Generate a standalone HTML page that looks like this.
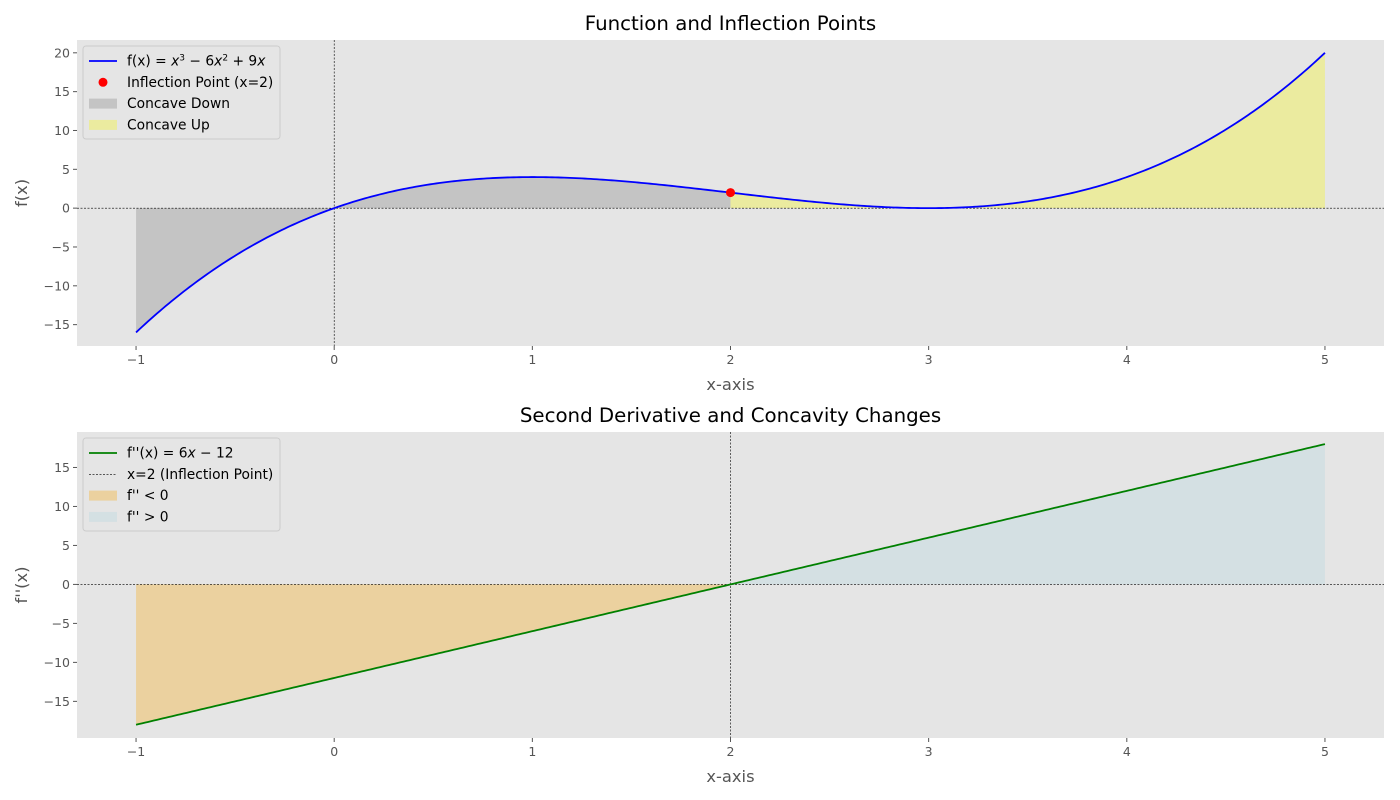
<!DOCTYPE html>
<html><head><meta charset="utf-8"><style>
body{margin:0;background:#fff;}
svg{display:block;font-family:"DejaVu Sans","Liberation Sans",sans-serif;}
</style></head><body>
<svg id="chart" width="1400" height="800"></svg>
<script>
// Data: polynomial coefficients (c0 + c1 x + c2 x^2 + c3 x^3) and ranges
const fCoeffs = [0, 9, -6, 1];
const f2Coeffs = [-12, 6];
const xDomain = [-1, 5];
const inflectionX = [2];
const xTicks = [-1, 0, 1, 2, 3, 4, 5];
const yTicksTop = [-15, -10, -5, 0, 5, 10, 15, 20];
const yTicksBottom = [-15, -10, -5, 0, 5, 10, 15];

const NS = "http://www.w3.org/2000/svg";
const svg = document.getElementById('chart');
function mk(tag, attrs, parent, text){
  const e = document.createElementNS(NS, tag);
  for (const k in attrs) e.setAttribute(k, attrs[k]);
  if (text !== undefined) e.textContent = text;
  (parent || svg).appendChild(e);
  return e;
}
function poly(c, x){ let s = 0; for (let i = c.length - 1; i >= 0; i--) s = s * x + c[i]; return s; }
function samples(c, a, b){ const pts = []; const n = 400; for (let i = 0; i <= n; i++){ const x = a + (b - a) * i / n; pts.push([x, poly(c, x)]); } return pts; }

function panel(cfg){
  const {L, R, T, B, xmin, xmax, ymin, ymax} = cfg;
  const sx = x => L + (x - xmin) / (xmax - xmin) * (R - L);
  const sy = y => B - (y - ymin) / (ymax - ymin) * (B - T);
  const g = mk('g', {});
  
  
  const bg = mk('rect', {x: L, y: T, width: R - L, height: B - T, fill: '#e5e5e5'}, g);
  
  
  cfg.fills.forEach(fl => {
    const pts = samples(cfg.coeffs, fl.a, fl.b);
    let d = `M${sx(fl.a)},${sy(0)} ` + pts.map(p => `L${sx(p[0])},${sy(p[1])}`).join(' ') + ` L${sx(fl.b)},${sy(0)} Z`;
    const p = mk('path', {d, fill: fl.color}, g);
    
    
  });
  const h = mk('line', {x1: L, x2: R, y1: sy(0), y2: sy(0), stroke: '#000', 'stroke-width': 0.6, 'stroke-dasharray': '2,1.5'}, g);
  
  
  const v = mk('line', {x1: sx(cfg.vx), x2: sx(cfg.vx), y1: T, y2: B, stroke: '#000', 'stroke-width': 0.6, 'stroke-dasharray': '2,1.5'}, g);
  
  
  const pts = samples(cfg.coeffs, xDomain[0], xDomain[1]);
  const line = mk('path', {d: 'M' + pts.map(p => `${sx(p[0])},${sy(p[1])}`).join(' L'), fill: 'none', stroke: cfg.color, 'stroke-width': 1.8}, g);
  
  
  if (cfg.point){
    const c = mk('circle', {cx: sx(inflectionX[0]), cy: sy(poly(cfg.coeffs, inflectionX[0])), r: 4.5, fill: 'red'}, g);
    
    
  }
  xTicks.forEach(t => {
    mk('line', {x1: sx(t), x2: sx(t), y1: B, y2: B + 4, stroke: '#555'}, g);
    const tx = mk('text', {x: sx(t), y: B + 18, 'font-size': 12.5, fill: '#555', 'text-anchor': 'middle'}, g, t < 0 ? '−' + (-t) : t);
    
    
  });
  cfg.yTicks.forEach(t => {
    mk('line', {x1: L - 4, x2: L, y1: sy(t), y2: sy(t), stroke: '#555'}, g);
    const ty = mk('text', {x: L - 7, y: sy(t) + 4.5, 'font-size': 12.5, fill: '#555', 'text-anchor': 'end'}, g, t < 0 ? '−' + (-t) : t);
    
    
  });
  const ttl = mk('text', {x: (L + R) / 2, y: T - 10, 'font-size': 19.8, fill: '#000', 'text-anchor': 'middle'}, g, cfg.title);
  
  
  const xl = mk('text', {x: (L + R) / 2, y: B + 44, 'font-size': 16.3, fill: '#555', 'text-anchor': 'middle'}, g, 'x-axis');
  
  
  const yl = mk('text', {x: 0, y: 0, 'font-size': 16.3, fill: '#555', 'text-anchor': 'middle', transform: `translate(27,${(T + B) / 2}) rotate(-90)`}, g, cfg.ylabel);
  
  
  const lg = mk('g', {}, g);
  
  
  mk('rect', {x: L + 6, y: T + 6, width: 197, height: 93, rx: 3, fill: '#e5e5e5', stroke: '#ccc', 'stroke-width': 1}, lg);
  cfg.legend.forEach((it, i) => {
    const y = T + 21 + i * 21.3;
    const eg = mk('g', {}, lg);
    
    
    if (it.type === 'line') mk('line', {x1: L + 12, x2: L + 40, y1: y, y2: y, stroke: it.color, 'stroke-width': it.w || 1.8, 'stroke-dasharray': it.dash || 'none'}, eg);
    else if (it.type === 'dot') mk('circle', {cx: L + 26, cy: y, r: 4.5, fill: it.color}, eg);
    else mk('rect', {x: L + 12, y: y - 5, width: 28, height: 10, fill: it.color}, eg);
    const tx = mk('text', {x: L + 50, y: y + 4.5, 'font-size': 13.8, fill: '#000'}, eg);
    tx.innerHTML = it.label;
  });
}

panel({name: 'top-panel', L: 77, R: 1384, T: 40, B: 346, xmin: -1.298, xmax: 5.298, ymin: -17.75, ymax: 21.65,
  coeffs: fCoeffs, color: '#0000ff', lineName: 'f-curve', vx: 0, point: true, yTicks: yTicksTop,
  title: 'Function and Inflection Points', ylabel: 'f(x)',
  fills: [{a: xDomain[0], b: inflectionX[0], color: '#c4c4c4', name: 'concave-down-area'},
          {a: inflectionX[0], b: xDomain[1], color: '#ebeb9f', name: 'concave-up-area'}],
  legend: [{type: 'line', color: '#0000ff', label: 'f(x) = <tspan font-style="italic">x</tspan><tspan dy="-5" font-size="9">3</tspan><tspan dy="5"> − 6</tspan><tspan font-style="italic">x</tspan><tspan dy="-5" font-size="9">2</tspan><tspan dy="5"> + 9</tspan><tspan font-style="italic">x</tspan>'},
           {type: 'dot', color: 'red', label: 'Inflection Point (x=2)'},
           {type: 'rect', color: '#c4c4c4', label: 'Concave Down'},
           {type: 'rect', color: '#ebeb9f', label: 'Concave Up'}]
});
panel({name: 'bottom-panel', L: 77, R: 1384, T: 432, B: 738, xmin: -1.298, xmax: 5.298, ymin: -19.7, ymax: 19.55,
  coeffs: f2Coeffs, color: '#008000', lineName: 'second-derivative-line', vx: inflectionX[0], point: false, yTicks: yTicksBottom,
  title: 'Second Derivative and Concavity Changes', ylabel: "f''(x)",
  fills: [{a: xDomain[0], b: inflectionX[0], color: '#ebd19f', name: 'negative-area'},
          {a: inflectionX[0], b: xDomain[1], color: '#d4e0e3', name: 'positive-area'}],
  legend: [{type: 'line', color: '#008000', label: "f''(x) = 6<tspan font-style='italic'>x</tspan> − 12"},
           {type: 'line', color: '#000', w: 0.6, dash: '2,1.5', label: 'x=2 (Inflection Point)'},
           {type: 'rect', color: '#ebd19f', label: "f'' &lt; 0"},
           {type: 'rect', color: '#d4e0e3', label: "f'' &gt; 0"}]
});
</script>
</body></html>
